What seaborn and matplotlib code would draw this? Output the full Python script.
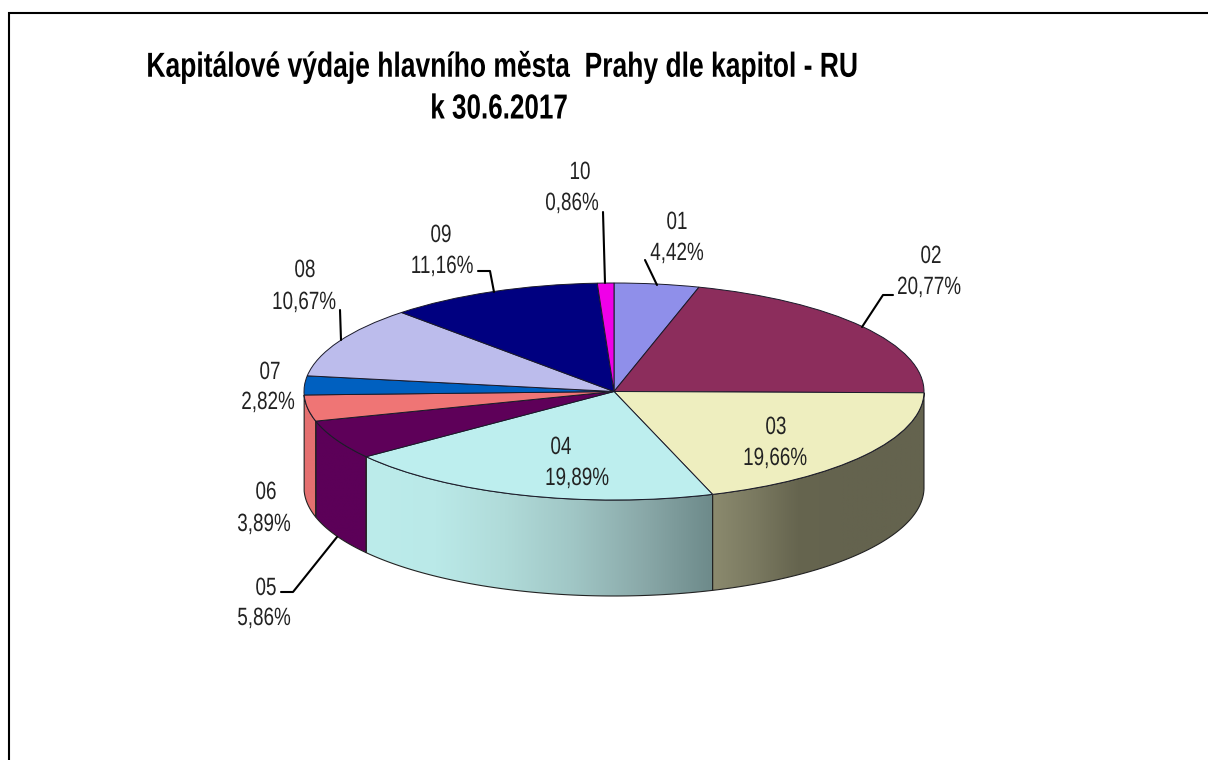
import numpy as np
import matplotlib
matplotlib.use("Agg")
import matplotlib.pyplot as plt
from matplotlib.colors import to_rgb
from matplotlib.patches import Polygon
from matplotlib.patheffects import AbstractPathEffect
from matplotlib.transforms import Affine2D
import seaborn as sns

chapters = ["01", "02", "03", "04", "05", "06", "07", "08", "09", "10"]
shares = [4.42, 20.77, 19.66, 19.89, 5.86, 3.89, 2.82, 10.67, 11.16, 0.86]
share_labels = ["4,42%", "20,77%", "19,66%", "19,89%", "5,86%",
                "3,89%", "2,82%", "10,67%", "11,16%", "0,86%"]
title_lines = ["Kapitálové výdaje hlavního města  Prahy dle kapitol - RU", "k 30.6.2017"]

top_colors = ["#8f8fea", "#8c2d5c", "#eeeebf", "#bdeeee", "#5e0059",
              "#ef7575", "#0060c0", "#bcbcec", "#000080", "#f000e8"]

# side wall shading, left to right, per slice
side_colors = {
    "03": ["#8b8a6e", "#7a7960", "#66654f", "#64634e", "#64634e", "#64634e"],
    "04": ["#bceceb", "#bae9e8", "#b0dbd9", "#a0c6c5", "#8aa9a9", "#6d8a8a"],
    "05": ["#5c0058", "#5c0058"],
    "06": ["#e57070", "#e57070"],
}

# layout, in picture pixels
W, H = 1208, 760
CX, CY, RX, RY = 614, 391.5, 310, 108.5
DEPTH = 96 / RY
label_pos = {
    "01": ((677, 222), (677, 253)),
    "02": ((931, 256), (929, 287)),
    "03": ((776, 427), (775, 458)),
    "04": ((561, 447), (577, 478)),
    "05": ((266, 588), (264, 618)),
    "06": ((266, 492), (264, 524)),
    "07": ((270, 372), (268, 402)),
    "08": ((305, 270), (304, 302)),
    "09": ((441, 235), (442, 266)),
    "10": ((580, 172), (572, 203)),
}
leaders = [
    [(603, 212), (605, 283)],
    [(478, 271), (490, 271), (494, 292)],
    [(340, 310), (341, 340)],
    [(645, 260), (657, 285)],
    [(893, 295), (883, 295), (862, 327)],
    [(281, 592), (293, 592), (337, 537)],
]


class Squeeze(AbstractPathEffect):
    # the reference font is a narrow Arial, which is not installed
    def __init__(self, sx, cx):
        super().__init__()
        self.sx = sx
        self.cx = cx

    def draw_path(self, renderer, gc, tpath, affine, rgbFace=None):
        squeeze = Affine2D().translate(-self.cx, 0).scale(self.sx, 1).translate(self.cx, 0)
        renderer.draw_path(gc, tpath, affine + squeeze, rgbFace)


sns.set_theme(style="white")
plt.rcParams["font.family"] = ["Liberation Sans", "DejaVu Sans"]
palette = sns.color_palette(top_colors)

fig = plt.figure(figsize=(W / 100, H / 100), dpi=100, facecolor="white")
ax = fig.add_axes([0, 0, 1, 1])


def px(x, y):
    # picture pixels to pie data units
    return (x - CX) / RX, (CY - y) / RY


def narrow_text(x, y, s, sx=0.755, **kw):
    ax.text(*px(x, y), s, ha="center", va="center", zorder=6,
            path_effects=[Squeeze(sx, x)], **kw)


ax.pie(shares, colors=palette, startangle=90, counterclock=False, radius=1,
       wedgeprops={"edgecolor": "#1a1a2a", "linewidth": 0.7, "zorder": 3})
ax.set_aspect("auto")
ax.set_frame_on(False)

# side walls for the slices that face the viewer
edges = np.cumsum([0] + shares) * 3.6
for i, ch in enumerate(chapters):
    if ch not in side_colors:
        continue
    a0 = max(edges[i], 90)
    a1 = min(edges[i + 1], 270)
    t = np.radians(np.linspace(a0, a1, 80))
    xs, ys = np.sin(t), np.cos(t)
    poly = np.vstack([np.c_[xs, ys], np.c_[xs[::-1], ys[::-1] - DEPTH]])
    patch = Polygon(poly, closed=True, facecolor="none", edgecolor="#222222",
                    linewidth=0.8, zorder=2)
    ax.add_patch(patch)
    stops = np.array([to_rgb(c) for c in side_colors[ch]])
    pos = np.linspace(0, 1, len(stops))
    grid = np.linspace(0, 1, 256)
    ramp = np.stack([np.interp(grid, pos, stops[:, k]) for k in range(3)], axis=1)[None, :, :]
    im = ax.imshow(ramp, extent=(xs.min(), xs.max(), -1 - DEPTH, 0), aspect="auto",
                   zorder=1, interpolation="bilinear")
    im.set_clip_path(patch)

ax.set_xlim(-CX / RX, (W - CX) / RX)
ax.set_ylim((CY - H) / RY, CY / RY)

# frame, only top and left are visible in the picture
fx, fy = zip(px(8.5, H), px(8.5, 12.5), px(W, 12.5))
ax.plot(fx, fy, color="black", lw=1.5, solid_joinstyle="miter", zorder=5)

# leader lines
for pts in leaders:
    lx, ly = zip(*[px(*p) for p in pts])
    ax.plot(lx, ly, color="black", lw=1.5, zorder=5)

# data labels
for ch, lab in zip(chapters, share_labels):
    (x1, y1), (x2, y2) = label_pos[ch]
    narrow_text(x1, y1, ch, fontsize=18, color="#222222")
    narrow_text(x2, y2, lab, fontsize=18, color="#222222")

# title
narrow_text(502, 67, title_lines[0], sx=0.762, fontsize=25, fontweight="bold", color="black")
narrow_text(499, 109, title_lines[1], sx=0.75, fontsize=25, fontweight="bold", color="black")

fig.savefig("out.png", dpi=100)
